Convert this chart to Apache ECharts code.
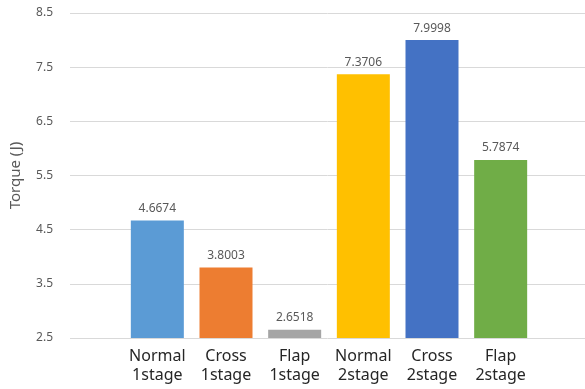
<!DOCTYPE html>
<html>
<head>
<meta charset="utf-8">
<script src="https://cdn.jsdelivr.net/npm/echarts@6/dist/echarts.min.js"></script>
<style>
html,body{margin:0;padding:0;background:#fff;}
#main{width:585px;height:389px;}
</style>
</head>
<body>
<div id="main"></div>
<script>
var categories = ['Normal\n1stage', 'Cross\n1stage', 'Flap\n1stage', 'Normal\n2stage', 'Cross\n2stage', 'Flap\n2stage'];
var torque = [4.6674, 3.8003, 2.6518, 7.3706, 7.9998, 5.7874];
var barColors = ['#5B9BD5', '#ED7D31', '#A5A5A5', '#FFC000', '#4472C4', '#70AD47'];
var yMin = 2.5, yMax = 8.5, yStep = 1;

var fontName = '"Noto Sans", "Noto Sans CJK KR", sans-serif';

var chart = echarts.init(document.getElementById('main'));

var barData = [];
for (var i = 0; i < torque.length; i++) {
	barData.push({value: torque[i], itemStyle: {color: barColors[i]}});
}

chart.setOption({
	animation: false,
	textStyle: {fontFamily: fontName},
	grid: [
		// gridlines + y labels span the full plot area
		{left: 70, right: 0, top: 13, bottom: 51, containLabel: false},
		// bars sit in a narrower band in the middle
		{left: 123, width: 412, top: 13, bottom: 51, containLabel: false}
	],
	xAxis: [
		{gridIndex: 0, type: 'category', data: [''], show: false},
		{
			gridIndex: 1,
			type: 'category',
			data: categories,
			axisLine: {show: false},
			axisTick: {show: false},
			axisLabel: {color: '#262626', fontSize: 16, lineHeight: 19, margin: 9, interval: 0}
		}
	],
	yAxis: [
		{
			gridIndex: 0,
			type: 'value',
			min: yMin,
			max: yMax,
			interval: yStep,
			name: 'Torque (J)',
			nameLocation: 'middle',
			nameGap: 47,
			nameTextStyle: {color: '#595959', fontSize: 15},
			axisLine: {show: false},
			axisTick: {show: false},
			axisLabel: {color: '#595959', fontSize: 12, margin: 17, formatter: function (v) { return v.toFixed(1); }},
			splitLine: {lineStyle: {color: '#D9D9D9', width: 1}}
		},
		{gridIndex: 1, type: 'value', min: yMin, max: yMax, interval: yStep, show: false, splitLine: {show: false}}
	],
	series: [{
		type: 'bar',
		xAxisIndex: 1,
		yAxisIndex: 1,
		barWidth: 53,
		data: barData,
		label: {
			show: true,
			position: 'top',
			distance: 6,
			color: '#595959',
			fontSize: 12,
			formatter: function (p) { return p.value.toFixed(4); }
		}
	}]
});
</script>
</body>
</html>
